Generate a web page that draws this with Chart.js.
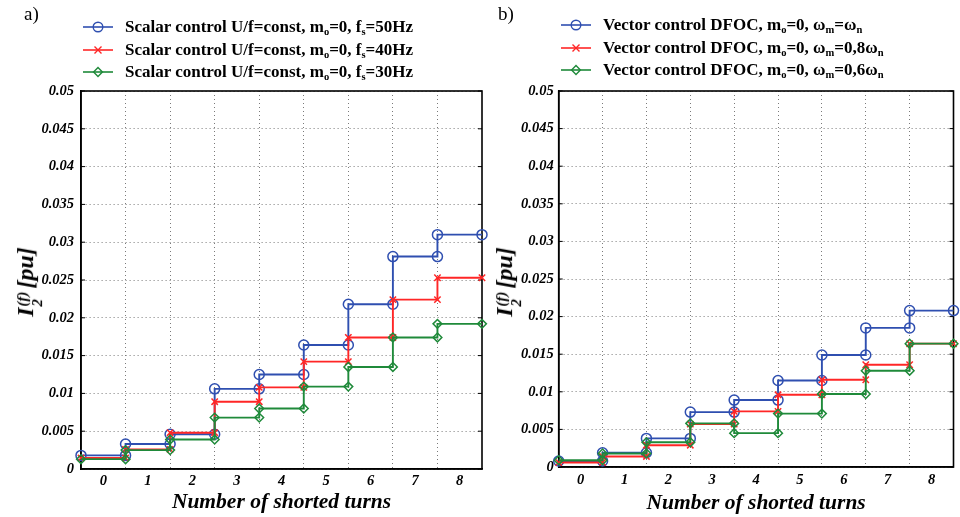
<!DOCTYPE html>
<html><head><meta charset="utf-8">
<script src="https://cdn.jsdelivr.net/npm/chart.js@4/dist/chart.umd.min.js"></script>
<style>
body{margin:0;background:#fff;width:960px;height:517px;position:relative;overflow:hidden;font-family:"Liberation Serif","Times New Roman",serif;color:#000}
canvas{position:absolute;top:0}
#cA{left:0}
#cB{left:480px}
.panel{position:absolute;font-size:19px;line-height:1.2}
.legend{position:absolute;font-weight:bold;font-size:17px}
.row{display:flex;align-items:center;height:22.5px;white-space:nowrap}
.row svg{margin-right:12px;flex:none}
.row sub{font-size:0.62em;vertical-align:-0.3em;line-height:0}
.ytitle{position:absolute;transform:translate(-50%,-50%) rotate(-90deg);font-weight:bold;font-style:italic;font-size:24px;white-space:nowrap;line-height:1}
.ss{display:inline-flex;flex-direction:column;font-size:0.62em;vertical-align:0.4em;line-height:1;margin-right:3px;margin-left:1px}
</style>
</head><body>
<canvas id="cA" width="492" height="517"></canvas>
<canvas id="cB" width="480" height="517"></canvas>
<div class="panel" style="left:24px;top:3px">a)</div>
<div class="panel" style="left:498px;top:3px">b)</div>
<div class="legend" id="legA" style="left:83px;top:16px"></div>
<div class="legend" id="legB" style="left:561px;top:14px"></div>
<div class="ytitle" style="left:29px;top:282px"><span>I</span><span class="ss"><span>(f)</span><span>2</span></span><span>[pu]</span></div>
<div class="ytitle" style="left:508px;top:282px"><span>I</span><span class="ss"><span>(f)</span><span>2</span></span><span>[pu]</span></div>
<script>
// ---- data ----
const xLabels = ['0','1','2','3','4','5','6','7','8'];
const yTickValues = [0,0.005,0.01,0.015,0.02,0.025,0.03,0.035,0.04,0.045,0.05];
const yTickLabels = ['0','0.005','0.01','0.015','0.02','0.025','0.03','0.035','0.04','0.045','0.05'];

const scalar50Hz = [0.0018, 0.0033, 0.0046, 0.0106, 0.0125, 0.0164, 0.0218, 0.0281, 0.0310];
const scalar40Hz = [0.00145, 0.0026, 0.0048, 0.0089, 0.0108, 0.0142, 0.0174, 0.0224, 0.0253];
const scalar30Hz = [0.0013, 0.0025, 0.0039, 0.0068, 0.0080, 0.0109, 0.0135, 0.0174, 0.0192];

const vectorWn   = [0.0008, 0.0019, 0.0038, 0.0073, 0.0089, 0.0115, 0.0149, 0.0185, 0.0208];
const vector08Wn = [0.0006, 0.0014, 0.0029, 0.0057, 0.0074, 0.0096, 0.0116, 0.0136, 0.0164];
const vector06Wn = [0.0009, 0.0018, 0.0033, 0.0058, 0.0045, 0.0071, 0.0097, 0.0128, 0.0164];

const legendA = [
  'Scalar control U/f=const, m<sub>o</sub>=0, f<sub>s</sub>=50Hz',
  'Scalar control U/f=const, m<sub>o</sub>=0, f<sub>s</sub>=40Hz',
  'Scalar control U/f=const, m<sub>o</sub>=0, f<sub>s</sub>=30Hz'
];
const legendB = [
  'Vector control DFOC, m<sub>o</sub>=0, &omega;<sub>m</sub>=&omega;<sub>n</sub>',
  'Vector control DFOC, m<sub>o</sub>=0, &omega;<sub>m</sub>=0,8&omega;<sub>n</sub>',
  'Vector control DFOC, m<sub>o</sub>=0, &omega;<sub>m</sub>=0,6&omega;<sub>n</sub>'
];

const BLUE = '#2f4fb0', RED = '#ff2626', GREEN = '#1f8a3a';
const styles = [
  {color: BLUE, pointStyle: 'circle', radius: 5},
  {color: RED, pointStyle: 'crossRot', radius: 4.5},
  {color: GREEN, pointStyle: 'rectRot', radius: 4.4}
];

function stepPoints(values){
  const pts = [];
  values.forEach((v, i) => { pts.push({x: i - 0.5, y: v}); pts.push({x: i + 0.5, y: v}); });
  return pts;
}

const tickFont = {family: 'Liberation Serif', size: 14.5, weight: 'bold', style: 'italic'};
const GRID = '#7a7a7a';

const framePlugin = {
  id: 'frame',
  beforeDatasetsDraw(chart){
    const {ctx, chartArea: a, scales} = chart;
    ctx.save();
    ctx.strokeStyle = '#000';
    ctx.lineWidth = 1;
    scales.y.ticks.forEach(t => {
      const y = scales.y.getPixelForValue(t.value);
      ctx.beginPath();
      ctx.moveTo(a.left, y); ctx.lineTo(a.left + 4, y);
      ctx.moveTo(a.right, y); ctx.lineTo(a.right - 4, y);
      ctx.stroke();
    });
    ctx.lineWidth = 1.6;
    ctx.strokeRect(a.left, a.top, a.right - a.left, a.bottom - a.top);
    ctx.restore();
  }
};

function makeChart(id, seriesList, labels, cfg){
  const datasets = seriesList.map((vals, k) => ({
    label: labels[k],
    data: stepPoints(vals),
    borderColor: styles[k].color,
    backgroundColor: 'transparent',
    borderWidth: 1.9,
    pointStyle: styles[k].pointStyle,
    pointRadius: styles[k].radius,
    pointBorderWidth: 1.5,
    pointBorderColor: styles[k].color,
    pointBackgroundColor: 'transparent',
    tension: 0,
    clip: false,
    order: 3 - k
  }));
  return new Chart(document.getElementById(id), {
    type: 'line',
    data: {datasets},
    options: {
      responsive: false,
      animation: false,
      layout: {padding: {top: 91, right: cfg.padRight, left: 0, bottom: 0}},
      plugins: {legend: {display: false}, tooltip: {enabled: false}},
      scales: {
        x: {
          type: 'linear', min: -0.5, max: xLabels.length - 0.5,
          afterBuildTicks: s => {
            const t = [];
            xLabels.forEach((lab, i) => { t.push({value: i}); if (i < xLabels.length - 1) t.push({value: i + 0.5}); });
            s.ticks = t;
          },
          afterFit: s => { s.height = cfg.xHeight; },
          ticks: {autoSkip: false, maxRotation: 0, padding: cfg.xPad, font: tickFont, color: '#000',
            callback: v => Number.isInteger(v) ? xLabels[v] : ''},
          grid: {drawTicks: false, lineWidth: 1,
            color: c => (c.tick && !Number.isInteger(c.tick.value)) ? GRID : 'rgba(0,0,0,0)'},
          border: {display: true, color: '#000', width: 1.6, dash: [1, 3]},
          title: {display: true, text: 'Number of shorted turns', color: '#000',
            font: {family: 'Liberation Serif', size: 21.5, weight: 'bold', style: 'italic'},
            padding: {top: 0, bottom: cfg.titlePad}}
        },
        y: {
          min: 0, max: 0.05,
          afterBuildTicks: s => { s.ticks = yTickValues.map(v => ({value: v})); },
          afterFit: s => { s.width = cfg.yWidth; },
          ticks: {padding: cfg.yPad, font: tickFont, color: '#000',
            callback: (v, i) => yTickLabels[i]},
          grid: {drawTicks: false, lineWidth: 1, color: GRID},
          border: {display: true, color: '#000', width: 1.6, dash: [1, 3]}
        }
      }
    },
    plugins: [framePlugin]
  });
}

function buildLegend(elId, labels){
  const el = document.getElementById(elId);
  labels.forEach((html, k) => {
    const s = styles[k];
    let mk = '';
    if (s.pointStyle === 'circle') mk = `<circle cx="15" cy="8" r="4.8" fill="none" stroke="${s.color}" stroke-width="1.4"/>`;
    else if (s.pointStyle === 'crossRot') mk = `<path d="M11.5 4.5L18.5 11.5M18.5 4.5L11.5 11.5" stroke="${s.color}" stroke-width="1.4"/>`;
    else mk = `<path d="M15 3.6L19.4 8L15 12.4L10.6 8Z" fill="none" stroke="${s.color}" stroke-width="1.4"/>`;
    const row = document.createElement('div');
    row.className = 'row';
    row.innerHTML = `<svg width="30" height="16"><line x1="0" y1="8" x2="30" y2="8" stroke="${s.color}" stroke-width="1.6"/>${mk}</svg><span>${html}</span>`;
    el.appendChild(row);
  });
}

makeChart('cA', [scalar50Hz, scalar40Hz, scalar30Hz], legendA,
  {padRight: 10, xHeight: 48, xPad: 4, titlePad: 2, yWidth: 81, yPad: 7});
makeChart('cB', [vectorWn, vector08Wn, vector06Wn], legendB,
  {padRight: 2, xHeight: 50, xPad: 4.3, titlePad: 1, yWidth: 78.7, yPad: 5});
buildLegend('legA', legendA);
buildLegend('legB', legendB);
</script>
</body></html>
